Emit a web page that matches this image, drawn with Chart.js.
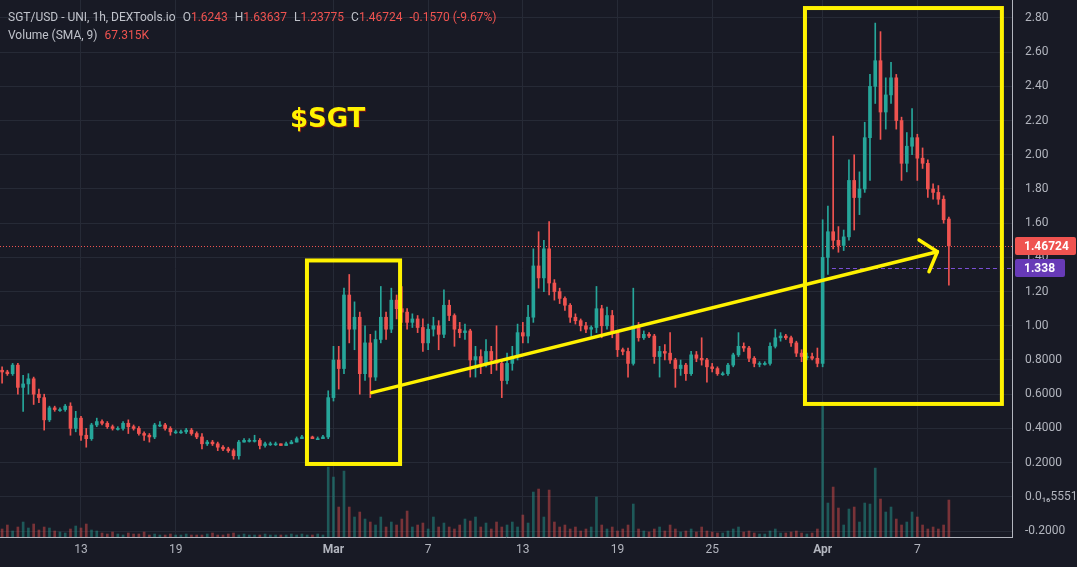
<!DOCTYPE html>
<html>
<head>
<meta charset="utf-8">
<script src="https://cdn.jsdelivr.net/npm/chart.js@4.4.1/dist/chart.umd.min.js"></script>
<style>
  html, body { margin: 0; padding: 0; background: #181a25; }
  #wrap { position: relative; width: 1077px; height: 567px; }
  #head { position: absolute; left: 8px; top: 8px; font: 12px Roboto, sans-serif; color: #c0c3cb; line-height: 18px; pointer-events: none; }
  #head .k { margin-left: 7px; }
  #head .r { color: #ef5350; }
</style>
</head>
<body>
<div id="wrap">
  <canvas id="chart" width="1077" height="567"></canvas>
  <div id="head">
    <div>SGT/USD - UNI, 1h, DEXTools.io<span class="k">O</span><span class="r">1.6243</span><span class="k">H</span><span class="r">1.63637</span><span class="k">L</span><span class="r">1.23775</span><span class="k">C</span><span class="r">1.46724</span><span class="k r">-0.1570 (-9.67%)</span></div>
    <div>Volume (SMA, 9)<span class="k r">67.315K</span></div>
  </div>
</div>
<script>
// 8h candles, first one on Feb 8 (day 7 counted from Feb 1)
const startDay = 7;
const stepDay = 1 / 3;

const opens = [
  .74,.73,.72,.77,.64,.66,.69,.60,.58,.45,
  .52,.51,.51,.53,.40,.46,.36,.34,.42,.44,
  .43,.41,.40,.40,.43,.41,.40,.37,.36,.35,
  .42,.42,.40,.38,.38,.38,.39,.37,.35,.31,
  .32,.31,.29,.28,.27,.24,.32,.33,.33,.33,
  .30,.31,.31,.31,.30,.31,.32,.34,.35,.35,
  .34,.34,.35,.58,.80,.75,1.18,.98,1.05,.72,
  .90,.70,.92,1.05,.98,1.15,1.10,1.08,1.02,1.04,
  .99,.90,.98,1.00,.95,1.12,1.06,.98,.96,.97,
  .80,.82,.78,.85,.80,.78,.68,.78,.82,.96,
  .94,1.05,1.35,1.28,1.45,1.25,1.20,1.16,1.12,1.05,
  1.03,1.00,.98,.99,1.10,1.00,1.06,.96,.86,.85,
  .78,1.00,.93,.95,.94,.82,.85,.84,.80,.75,
  .77,.72,.83,.81,.80,.76,.75,.72,.72,.77,
  .83,.88,.87,.81,.78,.78,.78,.88,.93,.94,
  .93,.90,.84,.82,.82,.81,.78,1.40,1.55,1.50,
  1.47,1.52,1.85,1.75,1.80,2.10,2.40,2.55,2.25,2.35,
  2.45,2.20,1.95,2.05,2.10,1.98,1.95,1.80,1.78,1.74,
  1.6243
];
const highs = [
  .76,.74,.78,.78,.71,.72,.70,.63,.60,.53,
  .53,.52,.54,.55,.50,.47,.40,.43,.46,.45,
  .44,.42,.41,.44,.45,.42,.41,.38,.37,.43,
  .44,.43,.41,.39,.39,.40,.40,.38,.37,.33,
  .33,.32,.30,.29,.28,.33,.34,.34,.36,.34,
  .32,.32,.32,.31,.32,.33,.35,.36,.36,.355,
  .35,.36,.62,.88,.88,1.22,1.30,1.14,1.08,1.00,
  .95,.97,1.23,1.08,1.22,1.18,1.23,1.10,1.07,1.06,
  1.04,1.01,1.05,1.03,1.21,1.15,1.07,1.02,1.01,.98,
  .88,.86,.92,.88,1.00,.80,.84,.88,1.01,1.02,
  1.12,1.45,1.55,1.50,1.61,1.27,1.22,1.17,1.13,1.07,
  1.04,1.02,1.00,1.23,1.12,1.11,1.09,.97,.87,.87,
  1.22,1.02,.97,.96,.95,.88,.89,.96,.81,.80,
  .78,.85,.85,.93,.81,.78,.76,.73,.78,.84,
  .96,.90,.88,.82,.79,.79,.90,.98,.96,.95,
  .94,.91,.86,.84,.84,.87,1.62,1.70,2.11,1.58,
  1.56,1.97,2.00,1.90,2.19,2.47,2.77,2.72,2.45,2.54,
  2.47,2.22,2.13,2.27,2.12,2.04,1.97,1.83,1.82,1.76,
  1.63637
];
const lows = [
  .665,.71,.71,.60,.50,.60,.54,.55,.39,.44,
  .50,.50,.50,.36,.38,.33,.29,.33,.41,.42,
  .40,.39,.39,.39,.37,.39,.36,.33,.32,.34,
  .41,.39,.36,.37,.37,.37,.36,.34,.28,.30,
  .30,.27,.27,.26,.22,.22,.32,.32,.32,.28,
  .29,.30,.30,.30,.30,.31,.32,.34,.34,.34,
  .34,.34,.34,.56,.63,.72,.90,.86,.60,.68,
  .58,.68,.90,.92,.96,1.04,1.02,.98,.99,.96,
  .85,.86,.94,.86,.93,1.03,.88,.93,.92,.70,
  .70,.72,.76,.72,.74,.58,.66,.74,.80,.90,
  .90,1.02,1.22,1.20,1.18,1.15,1.13,1.09,1.02,1.01,
  .97,.96,.94,.96,.93,.98,.93,.82,.83,.70,
  .77,.91,.92,.93,.78,.70,.80,.78,.64,.71,
  .68,.71,.79,.77,.67,.73,.71,.71,.71,.76,
  .82,.85,.79,.76,.76,.77,.77,.87,.91,.92,
  .88,.82,.79,.80,.80,.76,.76,1.30,1.45,1.43,
  1.44,1.50,1.56,1.65,1.78,1.85,2.30,2.09,2.15,2.30,
  2.15,1.85,1.90,2.00,1.85,1.92,1.75,1.74,1.71,1.60,
  1.23775
];
const closes = [
  .73,.72,.77,.64,.66,.69,.60,.58,.45,.52,
  .51,.51,.53,.40,.46,.36,.34,.42,.44,.43,
  .41,.40,.40,.43,.41,.40,.37,.36,.35,.42,
  .42,.40,.38,.38,.38,.39,.37,.35,.31,.32,
  .31,.29,.28,.27,.24,.32,.33,.33,.33,.30,
  .31,.31,.31,.30,.31,.32,.34,.35,.35,.34,
  .34,.35,.58,.80,.75,1.18,.98,1.05,.72,.90,
  .70,.92,1.05,.98,1.15,1.10,1.08,1.02,1.04,.99,
  .90,.98,1.00,.95,1.12,1.06,.98,.96,.97,.80,
  .82,.78,.85,.80,.78,.68,.78,.82,.96,.94,
  1.05,1.35,1.28,1.45,1.25,1.20,1.16,1.12,1.05,1.03,
  1.00,.98,.99,1.10,1.00,1.06,.96,.86,.85,.78,
  1.00,.93,.95,.94,.82,.85,.84,.80,.75,.77,
  .72,.83,.81,.80,.76,.75,.72,.72,.77,.83,
  .88,.87,.81,.78,.78,.78,.88,.93,.94,.93,
  .90,.84,.82,.82,.81,.78,1.40,1.55,1.50,1.47,
  1.52,1.85,1.75,1.80,2.10,2.40,2.55,2.25,2.35,2.45,
  2.20,1.95,2.05,2.10,1.98,1.95,1.80,1.78,1.74,1.62,
  1.46724
];
// volume in K
const volumes = [
  32,48,24,40,60,36,52,28,40,36,
  24,20,16,32,44,36,52,28,24,16,
  12,20,12,8,16,12,12,20,8,12,
  8,8,12,8,8,12,8,8,8,12,
  16,8,8,12,16,8,12,8,8,8,
  12,8,8,8,8,12,8,12,8,8,
  12,8,280,240,120,264,120,80,100,72,
  60,48,80,40,60,48,72,104,40,48,
  56,32,80,40,56,40,32,48,72,64,
  80,40,56,32,60,40,48,60,40,88,
  56,180,192,80,188,60,40,48,32,40,
  24,32,40,160,48,32,40,24,32,48,
  132,32,24,20,32,40,24,48,32,20,
  24,32,20,40,24,20,16,16,24,32,
  40,20,24,16,12,12,24,32,16,16,
  20,24,16,12,16,32,540,136,200,116,
  48,112,120,60,136,132,276,152,100,120,
  72,48,60,100,80,48,32,40,32,48,
  148
];

// x axis: days counted from Feb 1
const tickDays = [12, 18, 28, 34, 40, 46, 52, 59, 65];
const tickLabels = ['13', '19', 'Mar', '7', '13', '19', '25', 'Apr', '7'];
const monthTicks = [28, 59];

const lastPrice = 1.46724;
const alertPrice = 1.338;
const alertFrom = 59.59;

const UP = '#26a69a', DOWN = '#ef5350';
const YELLOW = '#fff200';

// drawing annotations, in data coordinates
const boxes = [
  { x0: 26.32, x1: 32.22, y0: 0.192, y1: 1.382 },
  { x0: 57.88, x1: 70.36, y0: 0.543, y1: 2.858 }
];
const arrow = { from: [30.42, 0.609], to: [66.27, 1.433], arms: [[65.11, 1.502], [65.74, 1.316]] };
const note = { text: '$SGT', x: 25.24, y: 2.163 };

const dayOf = i => startDay + i * stepDay;
const isUp = i => closes[i] >= opens[i];
const candleColors = closes.map((c, i) => isUp(i) ? UP : DOWN);
const volColors = closes.map((c, i) => isUp(i) ? 'rgba(38,166,154,0.45)' : 'rgba(239,83,80,0.45)');

function fmtPrice(v) {
    if (Math.abs(v) < 1e-9) return '0.0\u2081\u20865551';
    if (v >= 1) return v.toFixed(2);
    return v.toFixed(4);
}

const overlay = {
    id: 'overlay',
    beforeDatasetsDraw(chart) {
        const { ctx, chartArea: a, scales: { x, y } } = chart;
        ctx.save();
        ctx.lineWidth = 1;
        ctx.strokeStyle = DOWN;
        ctx.setLineDash([1, 2]);
        const yl = Math.round(y.getPixelForValue(lastPrice)) + 0.5;
        ctx.beginPath(); ctx.moveTo(a.left, yl); ctx.lineTo(a.right, yl); ctx.stroke();
        ctx.strokeStyle = '#7b4fd6';
        ctx.setLineDash([4, 3]);
        const ya = Math.round(y.getPixelForValue(alertPrice)) + 0.5;
        ctx.beginPath(); ctx.moveTo(x.getPixelForValue(alertFrom), ya); ctx.lineTo(a.right, ya); ctx.stroke();
        ctx.restore();
    },
    afterDatasetsDraw(chart) {
        const { ctx, scales: { x, y } } = chart;
        const px = p => [x.getPixelForValue(p[0]), y.getPixelForValue(p[1])];
        ctx.save();
        ctx.strokeStyle = YELLOW;
        ctx.lineWidth = 4;
        boxes.forEach(b => {
            const l = x.getPixelForValue(b.x0), r = x.getPixelForValue(b.x1);
            const t = y.getPixelForValue(b.y1), btm = y.getPixelForValue(b.y0);
            ctx.strokeRect(l, t, r - l, btm - t);
        });
        ctx.lineWidth = 3.5;
        ctx.lineCap = 'round';
        const [fx, fy] = px(arrow.from), [tx, ty] = px(arrow.to);
        ctx.beginPath(); ctx.moveTo(fx, fy); ctx.lineTo(tx, ty); ctx.stroke();
        arrow.arms.forEach(p => {
            const [ax, ay] = px(p);
            ctx.beginPath(); ctx.moveTo(tx, ty); ctx.lineTo(ax, ay); ctx.stroke();
        });
        // ticker label
        ctx.font = 'bold 26px "DejaVu Sans", sans-serif';
        ctx.textBaseline = 'alphabetic';
        ctx.textAlign = 'left';
        ctx.shadowColor = 'rgba(140,20,20,0.9)';
        ctx.shadowOffsetX = 1; ctx.shadowOffsetY = 1;
        ctx.fillStyle = YELLOW;
        ctx.fillText(note.text, x.getPixelForValue(note.x), y.getPixelForValue(note.y));
        ctx.restore();
    },
    afterDraw(chart) {
        const { ctx, scales: { y } } = chart;
        const tags = [
            { v: lastPrice, text: '1.46724', color: '#ef5350', w: 61 },
            { v: alertPrice, text: '1.338', color: '#673ab7', w: 50 }
        ];
        ctx.save();
        ctx.font = 'bold 12px Roboto, sans-serif';
        ctx.textBaseline = 'middle';
        ctx.textAlign = 'left';
        tags.forEach(t => {
            const cy = Math.round(y.getPixelForValue(t.v));
            ctx.fillStyle = t.color;
            ctx.beginPath();
            ctx.roundRect(y.left + 3, cy - 9, t.w, 18, 2);
            ctx.fill();
            ctx.fillStyle = '#ffffff';
            ctx.fillText(t.text, y.left + 12, cy + 1);
        });
        ctx.restore();
    }
};

new Chart(document.getElementById('chart'), {
    type: 'bar',
    data: {
        datasets: [
            {
                label: 'Volume',
                yAxisID: 'yv',
                data: volumes.map((v, i) => ({ x: dayOf(i), y: v })),
                backgroundColor: volColors,
                barThickness: 2,
                grouped: false,
                order: 3
            },
            {
                label: 'Wick',
                yAxisID: 'y',
                data: highs.map((h, i) => ({ x: dayOf(i), y: [lows[i], h] })),
                backgroundColor: candleColors,
                barThickness: 1,
                grouped: false,
                order: 2
            },
            {
                label: 'Body',
                yAxisID: 'y',
                data: closes.map((c, i) => ({ x: dayOf(i), y: [opens[i], c] })),
                backgroundColor: candleColors,
                barThickness: 3,
                minBarLength: 1,
                grouped: false,
                order: 1
            }
        ]
    },
    options: {
        responsive: false,
        devicePixelRatio: 1,
        animation: false,
        layout: { padding: 0 },
        plugins: { legend: { display: false }, tooltip: { enabled: false } },
        scales: {
            x: {
                type: 'linear',
                min: 6.867,
                max: 71,
                offset: false,
                grid: { color: '#262a36', offset: false, drawTicks: false },
                border: { color: '#b2b5be' },
                afterBuildTicks: s => { s.ticks = tickDays.map(v => ({ value: v })); },
                afterFit: s => { s.height = 30; s.paddingLeft = 0; s.paddingRight = 0; },
                ticks: {
                    autoSkip: false,
                    maxRotation: 0,
                    padding: 6,
                    color: '#b2b5be',
                    font: ctx => ({ family: 'Roboto', size: 12, weight: monthTicks.includes(ctx.tick && ctx.tick.value) ? 'bold' : 'normal' }),
                    callback: v => tickLabels[tickDays.indexOf(v)]
                }
            },
            y: {
                position: 'right',
                min: -0.235,
                max: 2.905,
                beginAtZero: false,
                grid: { color: '#262a36', drawTicks: false },
                border: { color: '#b2b5be' },
                afterFit: s => { s.width = 65; s.paddingTop = 0; s.paddingBottom = 0; },
                ticks: {
                    stepSize: 0.2,
                    includeBounds: false,
                    padding: 13,
                    color: '#b2b5be',
                    font: { family: 'Roboto', size: 12 },
                    callback: v => fmtPrice(v)
                }
            },
            yv: {
                display: false,
                min: 0,
                max: 2150
            }
        }
    },
    plugins: [overlay]
});
</script>
</body>
</html>
